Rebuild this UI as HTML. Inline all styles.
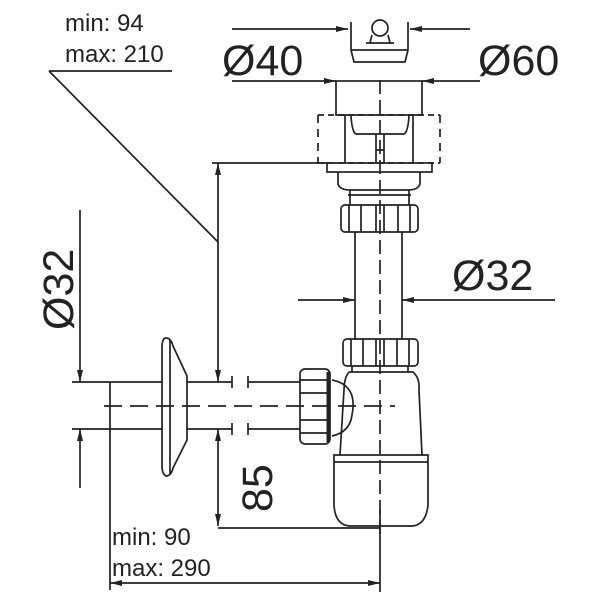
<!DOCTYPE html>
<html><head><meta charset="utf-8"><style>html,body{margin:0;padding:0;background:#fff}svg{display:block}</style></head><body>
<svg width="600" height="600" viewBox="0 0 600 600" xmlns="http://www.w3.org/2000/svg">
<defs>
<marker id="a" viewBox="0 0 12 6" refX="12" refY="3" markerWidth="12" markerHeight="6" orient="auto-start-reverse" markerUnits="userSpaceOnUse"><path d="M0,0 L12,3 L0,6z" fill="#222"/></marker>
</defs>
<g font-family="Liberation Sans, DejaVu Sans, sans-serif" fill="#222">
<text x="65" y="31" font-size="24">min: 94</text>
<text x="65" y="62" font-size="24">max: 210</text>
<text x="222" y="75" font-size="43">Ø40</text>
<text x="478" y="75" font-size="43">Ø60</text>
<text x="452" y="290" font-size="43">Ø32</text>
<text x="112" y="545" font-size="24">min: 90</text>
<text x="112" y="576" font-size="24">max: 290</text>
<text transform="translate(73,330) rotate(-90)" font-size="43">Ø32</text>
<text transform="translate(272,512) rotate(-90)" font-size="43">85</text>
</g>
<g stroke="#222" stroke-width="1.7" fill="none">
<path d="M49,71 H172 M49,71 L218,242"/>
<path d="M232,29 H348" marker-end="url(#a)"/>
<path d="M470,29 H410" marker-end="url(#a)"/>
<path d="M232,81 H336" marker-end="url(#a)"/>
<path d="M480,81 H422" marker-end="url(#a)"/>
<path d="M298,300 H355" marker-end="url(#a)"/>
<path d="M555,300 H402" marker-end="url(#a)"/>
<path d="M351,22 V50 L354,62 H405 L408,50 V22 M351,50 H408"/>
<circle cx="380" cy="28" r="8"/><path d="M372,35 L370,43 H390 L388,35 M366,43 H394"/>
<rect x="336" y="81" width="86" height="34"/>
<path d="M318,115 H440 M318,163 H440" stroke-dasharray="6 4"/>
<path d="M318,115 V163 M440,115 V163" stroke-dasharray="8 6"/>
<path d="M345,115 V163 M413,115 V163 M351,116 Q352,132 356,134 H404 Q408,132 409,116"/>
<path d="M376,134 V163 M384,134 V163 M376,150 H384"/>
<rect x="327" y="163" width="105" height="9"/>
<path d="M338,172 V184 Q340,190 350,190 H408 Q418,190 420,184 V172"/>
<path d="M350,190 V205 M409,190 V205 M348,195 H411"/>
<rect x="341" y="205" width="77" height="27" rx="4"/>
<path d="M349,205 V232 M361,205 V232 M376,205 V232 M384,205 V232 M398,205 V232 M410,205 V232"/>
<path d="M355,232 V340 M402,232 V340"/>
<rect x="343" y="339" width="75" height="27" rx="4"/>
<path d="M351,339 V366 M363,339 V366 M376,339 V366 M384,339 V366 M397,339 V366 M409,339 V366"/>
<path d="M352,366 V372 M408,366 V372"/>
<path d="M349,372 H413 Q420,378 419,390 L422,455 M349,372 Q344,378 344,390 L340,455"/>
<path d="M334,455 H428 V505 Q426,525 412,526 H350 Q335,525 334,505 Z"/>
<path d="M334,462 H428"/>
<path d="M332,380 Q358,385 352,415 Q350,432 332,436"/>
<rect x="300" y="369" width="30" height="75" rx="5"/>
<path d="M300,380 H330 M300,393 H330 M300,420 H330 M300,433 H330"/>
<path d="M328,372 V442" stroke-width="3"/>
<path d="M100,382 H163 M100,429 H163 M187,382 H232 M187,429 H232 M248,382 H300 M248,429 H300"/>
<path d="M232,376 V388 M232,423 V435 M248,376 V388 M248,423 V435"/>
<path d="M166,338 Q171,338 173,346 L187,376 V440 L173,468 Q171,476 166,476 Q162,474 162,466 V348 Q162,338 166,338 Z"/>
<path d="M170,340 V474"/>
<path d="M380,80 V540" stroke-dasharray="14 6"/>
<path d="M104,406 H395" stroke-dasharray="18 8"/>
<path d="M72,382 H100 M72,429 H100 M110,382 V590"/>
<path d="M80,210 V382" marker-end="url(#a)"/>
<path d="M80,488 V429" marker-end="url(#a)"/>
<path d="M212,163 H330"/>
<path d="M218,242 V163" marker-end="url(#a)"/>
<path d="M218,242 V382" marker-end="url(#a)"/>
<path d="M218,429 V475" marker-start="url(#a)"/>
<path d="M218,475 V526" marker-end="url(#a)"/>
<path d="M218,528 H380"/>
<path d="M380,510 V592"/>
<path d="M110,583 H380" marker-start="url(#a)" marker-end="url(#a)"/>
</g>
</svg>
</body></html>
